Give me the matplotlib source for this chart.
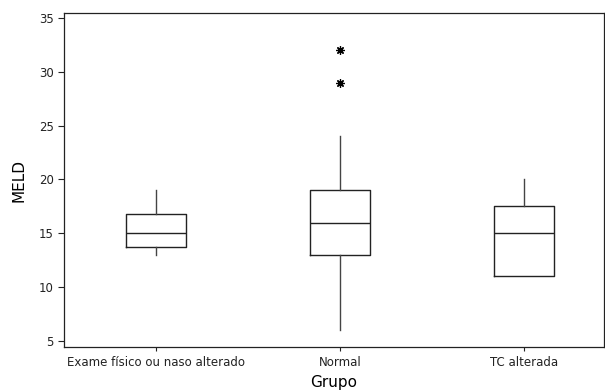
import matplotlib
matplotlib.use("Agg")
import matplotlib.pyplot as plt

groups = ["Exame físico ou naso alterado", "Normal", "TC alterada"]
whislo = [13, 6, 11]
q1 = [13.75, 13, 11]
med = [15, 16, 15]
q3 = [16.75, 19, 17.5]
whishi = [19, 24, 20]
fliers = [[], [29, 32], []]

stats = []
for i, g in enumerate(groups):
    stats.append(dict(label=g, whislo=whislo[i], q1=q1[i], med=med[i],
                      q3=q3[i], whishi=whishi[i], fliers=fliers[i]))

fig = plt.figure(figsize=(6.05, 3.92), dpi=100)
ax = fig.add_axes([64/605, 1-347/392, 540/605, 334/392])

lc = "#222222"
ax.bxp(stats, positions=[1, 2, 3], widths=0.33, showcaps=False,
       boxprops=dict(color=lc, linewidth=1.0),
       whiskerprops=dict(color="#444444", linewidth=1.0),
       medianprops=dict(color=lc, linewidth=1.0),
       flierprops=dict(marker=(8, 2, 0), markersize=6, markeredgecolor="black",
                       markerfacecolor="black", markeredgewidth=0.9))

ax.set_xlim(0.5, 3.435)
ax.set_ylim(4.44, 35.46)
ax.set_yticks([5, 10, 15, 20, 25, 30, 35])
ax.tick_params(axis="both", direction="out", length=4, width=0.8, labelsize=8.5, colors="#222222")
ax.tick_params(axis="x", length=3)
for s in ax.spines.values():
    s.set_linewidth(0.9)
    s.set_color("#222222")
ax.set_ylabel("MELD", fontsize=11, labelpad=9)
ax.set_xlabel("Grupo", fontsize=11, labelpad=4)

fig.savefig("out.png", dpi=100)
